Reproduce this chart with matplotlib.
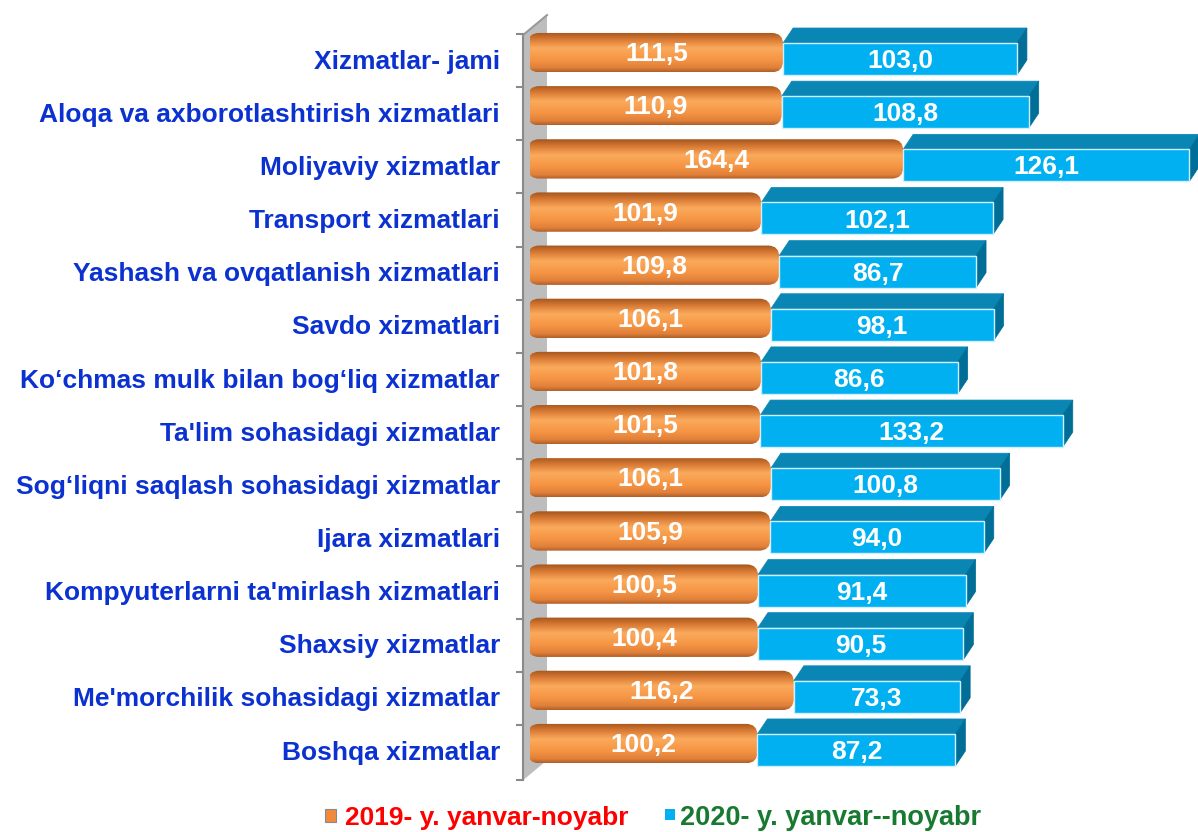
import numpy as np
import matplotlib
matplotlib.use("Agg")
import matplotlib.pyplot as plt
from matplotlib.patches import FancyBboxPatch, Polygon, Rectangle
from matplotlib.colors import LinearSegmentedColormap

categories = [
    "Xizmatlar- jami",
    "Aloqa va axborotlashtirish xizmatlari",
    "Moliyaviy xizmatlar",
    "Transport xizmatlari",
    "Yashash va ovqatlanish xizmatlari",
    "Savdo xizmatlari",
    "Ko\u2018chmas mulk bilan bog\u2018liq xizmatlar",
    "Ta'lim sohasidagi xizmatlar",
    "Sog\u2018liqni saqlash sohasidagi xizmatlar",
    "Ijara xizmatlari",
    "Kompyuterlarni ta'mirlash xizmatlari",
    "Shaxsiy xizmatlar",
    "Me'morchilik sohasidagi xizmatlar",
    "Boshqa xizmatlar",
]
v2019 = [111.5, 110.9, 164.4, 101.9, 109.8, 106.1, 101.8, 101.5, 106.1, 105.9, 100.5, 100.4, 116.2, 100.2]
v2020 = [103.0, 108.8, 126.1, 102.1, 86.7, 98.1, 86.6, 133.2, 100.8, 94.0, 91.4, 90.5, 73.3, 87.2]
legend_labels = ["2019- y. yanvar-noyabr", "2020- y. yanvar--noyabr"]

FONT = "Liberation Sans"
W, H = 1198, 832
PX_X = 2.27    # pixels per value unit
PX_Y = 53.15   # pixels per category step

fig = plt.figure(figsize=(W / 100, H / 100), dpi=100)
ax = fig.add_axes([530 / W, (H - 804) / H, (W - 530) / W, 800 / H])
ax.set_xlim(0, (W - 530) / PX_X)
ax.set_ylim((804 - 59) / PX_Y, (4 - 59) / PX_Y)
ax.axis("off")

# grey 3D wall on the left
wx0, wx1 = (523 - 530) / PX_X, (547 - 530) / PX_X
wdy = 20 / PX_Y
ytop, ybot = -0.45, 13.57
ax.add_patch(Polygon([(wx0, ytop), (wx1, ytop - wdy), (wx1, ybot - wdy), (wx0, ybot)],
                     closed=True, facecolor="#bdbdbd", edgecolor="none", clip_on=False, zorder=1))
ax.plot([wx0, wx0], [ytop, ybot], color="#8a8a8a", lw=1.5, clip_on=False, zorder=2)
ax.plot([wx0, wx1], [ytop, ytop - wdy], color="#9a9a9a", lw=1.5, clip_on=False, zorder=2)
for k in range(len(categories) + 1):
    yk = k - 0.47 if k < len(categories) else ybot
    ax.plot([wx0 - 6 / PX_X, wx0], [yk, yk], color="#8a8a8a", lw=1.5, clip_on=False, zorder=2)

orange_cmap = LinearSegmentedColormap.from_list(
    "og", [(0, "#a4561d"), (0.18, "#d97a35"), (0.4, "#fbaa5c"), (0.7, "#f59443"), (0.9, "#e0803a"), (1, "#b0602a")])
grad = np.linspace(0, 1, 64).reshape(-1, 1)

fh = 16 / PX_Y          # half height of blue front face
ddx, ddy = 10 / PX_X, 15 / PX_Y
x0 = -1.0
for i, (a, b) in enumerate(zip(v2019, v2020)):
    # orange cylinder-like bar
    top, bot = i - 0.49, i + 0.25
    patch = FancyBboxPatch((x0, top), a - x0, bot - top,
                           boxstyle="round,pad=0,rounding_size=5",
                           mutation_aspect=PX_X / PX_Y,
                           facecolor="none", edgecolor="none", zorder=3)
    ax.add_patch(patch)
    im = ax.imshow(grad, cmap=orange_cmap, aspect="auto", extent=(x0, a, bot, top),
                   zorder=3, interpolation="bicubic")
    im.set_clip_path(patch)
    ax.text(a / 2, i - 0.09, f"{a:.1f}".replace(".", ","), ha="center", va="center",
            color="white", fontsize=19, fontweight="bold", family=FONT, zorder=6)

    # blue 3D box
    e = a + b
    ax.add_patch(Polygon([(a, i - fh), (a + ddx, i - fh - ddy), (e + ddx, i - fh - ddy), (e, i - fh)],
                         closed=True, facecolor="#0a86b4", edgecolor="#0a86b4", lw=0.5,
                         clip_on=False, zorder=4))
    ax.add_patch(Polygon([(e, i - fh), (e + ddx, i - fh - ddy), (e + ddx, i + fh - ddy), (e, i + fh)],
                         closed=True, facecolor="#006e96", edgecolor="#006e96", lw=0.5,
                         clip_on=False, zorder=4))
    ax.add_patch(Rectangle((a, i - fh), b, 2 * fh, facecolor="#00b0f0", edgecolor="#cfefff",
                           lw=1.0, clip_on=False, zorder=5))
    ax.text(a + b / 2, i + 0.04, f"{b:.1f}".replace(".", ","), ha="center", va="center",
            color="white", fontsize=19, fontweight="bold", family=FONT, zorder=6)

    ax.text((500 - 530) / PX_X, i + 0.05, categories[i], ha="right", va="center",
            color="#0b32d0", fontsize=19, fontweight="bold", family=FONT, clip_on=False)

# legend
fig.patches.append(Rectangle((325 / W, (H - 822) / H), 11 / W, 13 / H, transform=fig.transFigure,
                             facecolor="#f08a3c", edgecolor="#8a8a8a", lw=0.8))
fig.patches.append(Rectangle((665 / W, (H - 820) / H), 10 / W, 11 / H, transform=fig.transFigure,
                             facecolor="#00b0f0", edgecolor="none"))
fig.text(345 / W, (H - 825) / H, legend_labels[0], color="#ff0000", fontsize=19,
         fontweight="bold", family=FONT, va="baseline")
fig.text(680 / W, (H - 825) / H, legend_labels[1], color="#177a30", fontsize=19.5,
         fontweight="bold", family=FONT, va="baseline")

fig.savefig("out.png", dpi=100)
